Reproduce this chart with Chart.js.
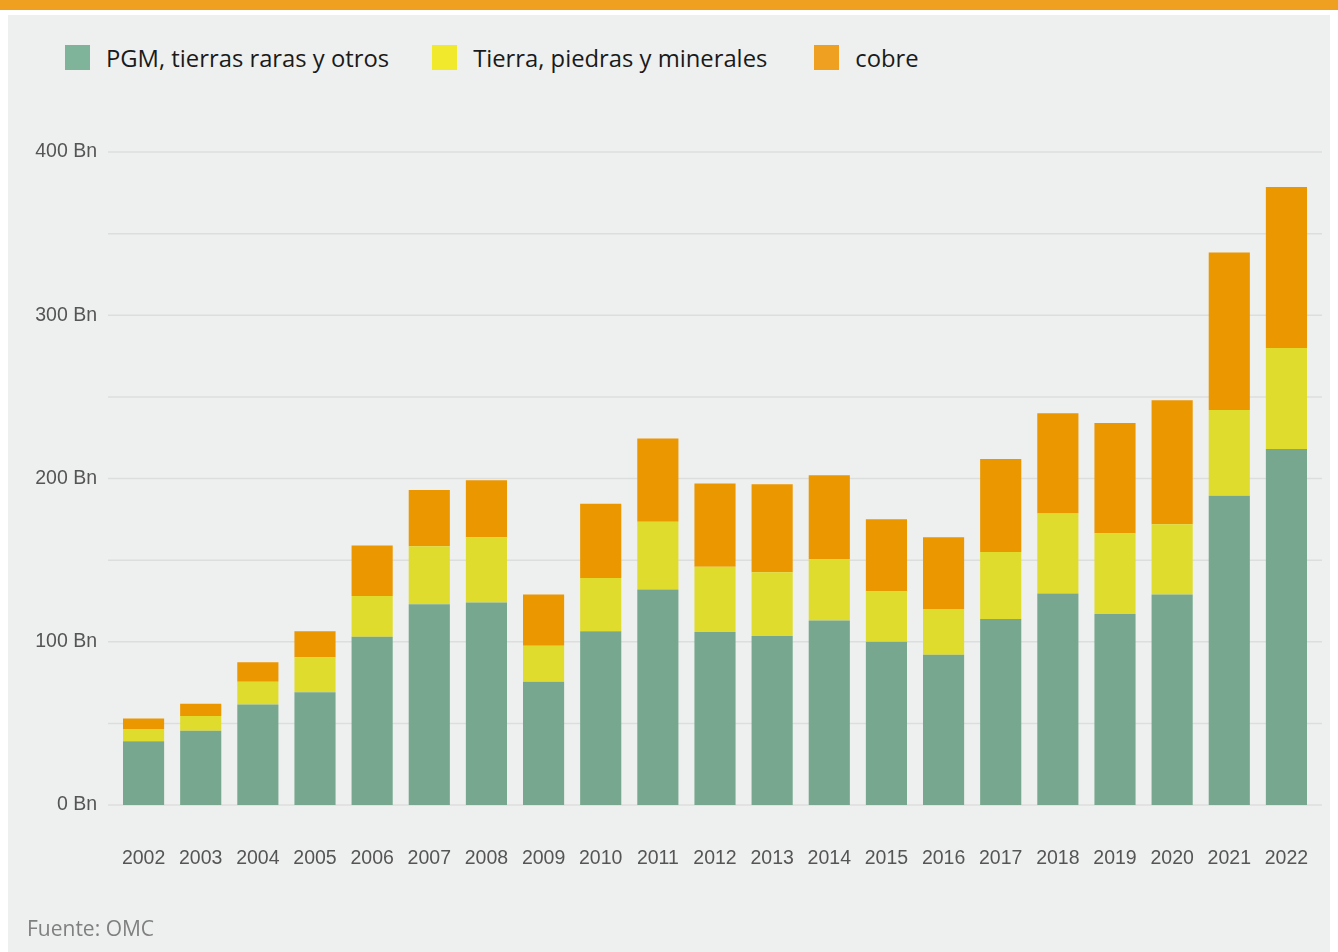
<!DOCTYPE html>
<html>
<head>
<meta charset="utf-8">
<script src="https://cdn.jsdelivr.net/npm/chart.js@4"></script>
<style>
    body { margin: 0; background: #ffffff; width: 1338px; height: 952px; overflow: hidden; position: relative; }
    .topbar { position: absolute; left: 0; top: 0; width: 1338px; height: 10px; background: #f0a020; }
    .panel { position: absolute; left: 8px; top: 15px; width: 1322px; height: 937px; background: #eef0ef; }
    #chart { position: absolute; left: 0; top: 0; }
    .legend { position: absolute; left: 65px; top: 45px; display: flex; font-family: "Open Sans", sans-serif; font-size: 23.8px; color: #1a1a1a; }
    .legend-item { display: flex; align-items: center; height: 25px; margin-right: 43px; }
    .legend-item:nth-child(2) { margin-right: 47px; }
    .legend-box { width: 25px; height: 25px; margin-right: 16px; }
    .source { position: absolute; left: 27px; top: 914px; font-family: "Open Sans", sans-serif; font-size: 21px; color: #808080; }
</style>
</head>
<body>
<div class="topbar"></div>
<div class="panel"></div>
<div class="legend" id="legend"></div>
<canvas id="chart" width="1338" height="952"></canvas>
<div class="source">Fuente: OMC</div>

<script>
const years = ["2002", "2003", "2004", "2005", "2006", "2007", "2008", "2009", "2010", "2011", "2012",
    "2013", "2014", "2015", "2016", "2017", "2018", "2019", "2020", "2021", "2022"];

// miles de millones USD
const pgm = [39, 45.5, 61.5, 69, 103, 123, 124, 75.5, 106.5, 132, 106, 103.5, 113, 100, 92, 114, 129.5, 117, 129, 189.5, 218];
const tierra = [7.5, 9, 14, 21.5, 25, 35.5, 40, 22, 32.5, 41.5, 40, 39, 37.5, 31, 28, 41, 49, 49.5, 43, 52.5, 62];
const cobre = [6.5, 7.5, 12, 16, 31, 34.5, 35, 31.5, 45.5, 51, 51, 54, 51.5, 44, 44, 57, 61.5, 67.5, 76, 96.5, 98.5];

const seriesLabels = ["PGM, tierras raras y otros", "Tierra, piedras y minerales", "cobre"];
const barColors = ["#77a88f", "#e0dc2d", "#eb9700"];
const legendColors = ["#7fb39a", "#f0e92c", "#f0a020"];

// legend
const legendEl = document.getElementById("legend");
seriesLabels.forEach((label, i) => {
    const item = document.createElement("div");
    item.className = "legend-item";
    const box = document.createElement("div");
    box.className = "legend-box";
    box.style.background = legendColors[i];
    const text = document.createElement("span");
    text.textContent = label;
    item.appendChild(box);
    item.appendChild(text);
    legendEl.appendChild(item);
});

// grid lines a bit wider than the plot area
const wideGrid = {
    id: "wideGrid",
    beforeDatasetsDraw(chart) {
        const { ctx, chartArea, scales } = chart;
        ctx.save();
        ctx.strokeStyle = "#dcdedd";
        ctx.lineWidth = 1.5;
        scales.y.ticks.forEach(t => {
            const y = scales.y.getPixelForValue(t.value);
            ctx.beginPath();
            ctx.moveTo(chartArea.left - 7, y);
            ctx.lineTo(chartArea.right + 7, y);
            ctx.stroke();
        });
        ctx.restore();
    }
};

const tickFont = { family: "'Liberation Sans', Arial, sans-serif", size: 19.5 };

new Chart(document.getElementById("chart"), {
    type: "bar",
    data: {
        labels: years,
        datasets: [
            { label: seriesLabels[0], data: pgm, backgroundColor: barColors[0] },
            { label: seriesLabels[1], data: tierra, backgroundColor: barColors[1] },
            { label: seriesLabels[2], data: cobre, backgroundColor: barColors[2] }
        ]
    },
    options: {
        responsive: false,
        animation: false,
        layout: { padding: { left: 0, right: 23, top: 152, bottom: 0 } },
        datasets: { bar: { categoryPercentage: 1, barPercentage: 0.72, borderWidth: 0 } },
        plugins: { legend: { display: false }, tooltip: { enabled: false } },
        scales: {
            x: {
                stacked: true,
                grid: { display: false },
                border: { display: false },
                ticks: { color: "#555555", font: tickFont, padding: 34, maxRotation: 0, autoSkip: false },
                afterFit: scale => {
                    scale.height = 147;
                    scale.paddingLeft = 0;
                    scale.paddingRight = 0;
                }
            },
            y: {
                stacked: true,
                min: 0,
                max: 400,
                grid: { display: false },
                border: { display: false },
                ticks: {
                    stepSize: 50,
                    color: "#555555",
                    font: tickFont,
                    padding: 10,
                    callback: v => (v % 100 === 0 ? v + " Bn" : "")
                },
                afterFit: scale => { scale.width = 115; }
            }
        }
    },
    plugins: [wideGrid]
});
</script>
</body>
</html>
